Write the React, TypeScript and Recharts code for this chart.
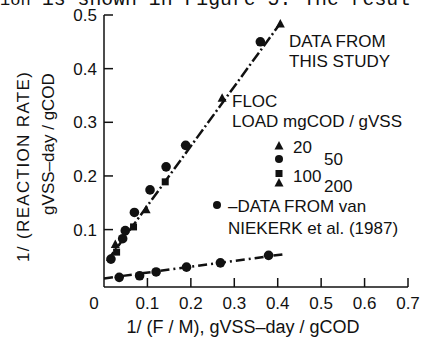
import React from "react"
import { ComposedChart, Scatter, Line, XAxis, YAxis } from "recharts"

// data: 1/(F/M) vs 1/(reaction rate)
const load20 = [
  { x: 0.272, y: 0.345 },
  { x: 0.406, y: 0.483 },
]
const load50 = [
  { x: 0.016, y: 0.045 },
  { x: 0.043, y: 0.083 },
  { x: 0.049, y: 0.098 },
  { x: 0.07, y: 0.132 },
  { x: 0.106, y: 0.174 },
  { x: 0.143, y: 0.217 },
  { x: 0.188, y: 0.257 },
  { x: 0.36, y: 0.45 },
]
const load100 = [
  { x: 0.029, y: 0.058 },
  { x: 0.068, y: 0.105 },
  { x: 0.141, y: 0.189 },
]
const load200 = [
  { x: 0.026, y: 0.072 },
  { x: 0.097, y: 0.137 },
]
const vanNiekerk = [
  { x: 0.035, y: 0.011 },
  { x: 0.082, y: 0.014 },
  { x: 0.12, y: 0.021 },
  { x: 0.19, y: 0.03 },
  { x: 0.268, y: 0.038 },
  { x: 0.379, y: 0.052 },
]
const studyFit = [
  { x: 0.007, y: 0.041 },
  { x: 0.41, y: 0.489 },
]
const niekerkFit = [
  { x: 0, y: 0.009 },
  { x: 0.413, y: 0.054 },
]
const xTicks = [0, 0.1, 0.2, 0.3, 0.4, 0.5, 0.6, 0.7]
const yTicks = [0.1, 0.2, 0.3, 0.4, 0.5]

const FONT = "'Liberation Sans', Arial, sans-serif"
const INK = "#111"

const dot = (p: any) => <circle cx={p.cx} cy={p.cy} r={4.8} fill={INK} />
const square = (p: any) => <rect x={p.cx - 3.5} y={p.cy - 3.5} width={7} height={7} fill={INK} />
const triangle = (p: any) => (
  <polygon
    points={`${p.cx},${p.cy - 5} ${p.cx - 4.5},${p.cy + 3.5} ${p.cx + 4.5},${p.cy + 3.5}`}
    fill={INK}
  />
)

const YTick = (p: any) => (
  <g>
    <line x1={p.x + 7} x2={p.x + 16} y1={p.y} y2={p.y} stroke={INK} strokeWidth={1.5} />
    <text x={p.x} y={p.y} dy={6} textAnchor="end" fontFamily={FONT} fontSize={17} fill={INK}>
      {p.payload.value}
    </text>
  </g>
)

const XTick = (p: any) => {
  const v = p.payload.value
  return (
    <g>
      {v !== 0 && <line x1={p.x} x2={p.x} y1={p.y} y2={p.y - 9} stroke={INK} strokeWidth={1.5} />}
      <text x={v === 0 ? p.x - 10 : p.x} y={p.y + 22} textAnchor="middle" fontFamily={FONT} fontSize={17} fill={INK}>
        {v}
      </text>
    </g>
  )
}

export default function App() {
  return (
    <div style={{ position: "absolute", left: 0, top: 0, width: 421, height: 345, background: "#fff" }}>
      <ComposedChart width={421} height={345} margin={{ top: 15, right: 13, left: 0, bottom: 0 }}>
        <XAxis
          dataKey="x"
          type="number"
          domain={[0, 0.7]}
          ticks={xTicks}
          interval={0}
          allowDataOverflow
          height={58}
          tickSize={0}
          tickMargin={0}
          tickLine={false}
          tick={<XTick />}
          axisLine={{ stroke: INK, strokeWidth: 1.5 }}
        />
        <XAxis xAxisId="top" orientation="top" type="number" domain={[0, 0.7]} height={0} tick={false} tickLine={false} axisLine={{ stroke: INK, strokeWidth: 1.5 }} />
        <YAxis
          dataKey="y"
          type="number"
          domain={[-0.007, 0.5]}
          ticks={yTicks}
          interval={0}
          allowDataOverflow
          width={104}
          tickSize={0}
          tickMargin={7}
          tickLine={false}
          tick={<YTick />}
          axisLine={{ stroke: INK, strokeWidth: 1.5 }}
        />
        <YAxis yAxisId="right" orientation="right" type="number" domain={[0, 0.5]} width={0} tick={false} tickLine={false} axisLine={{ stroke: INK, strokeWidth: 1.5 }} />

        <Line data={studyFit} dataKey="y" stroke={INK} strokeWidth={2.5} strokeDasharray="11 3 2 3" dot={false} isAnimationActive={false} />
        <Line data={niekerkFit} dataKey="y" stroke={INK} strokeWidth={2.5} strokeDasharray="9 4 2 4" dot={false} isAnimationActive={false} />

        <Scatter data={load20} shape={triangle} isAnimationActive={false} />
        <Scatter data={load50} shape={dot} isAnimationActive={false} />
        <Scatter data={load100} shape={square} isAnimationActive={false} />
        <Scatter data={load200} shape={triangle} isAnimationActive={false} />
        <Scatter data={vanNiekerk} shape={dot} isAnimationActive={false} />
      </ComposedChart>

      <svg width={421} height={345} style={{ position: "absolute", left: 0, top: 0, pointerEvents: "none" }} fontFamily={FONT} fontSize={17} fill={INK}>
        {/* running text of the scanned page, cut off by the crop */}
        <text x={0} y={5} fontFamily="'Liberation Mono', monospace" fontSize={17}>ion</text>
        <text x={42} y={5} fontFamily="'Liberation Mono', monospace" fontSize={19.8}>is shown in Figure 5.  The resul</text>

        <text transform="translate(29,167) rotate(-90)" textAnchor="middle" textLength={190}>1/  (REACTION RATE)</text>
        <text transform="translate(54,144) rotate(-90)" textAnchor="middle">gVSS–day / gCOD</text>
        <text x={243} y={333} textAnchor="middle" fontSize={18}>1/  (F / M), gVSS–day / gCOD</text>

        <text x={289} y={47}>DATA FROM</text>
        <text x={289} y={67}>THIS STUDY</text>
        <text x={232} y={107}>FLOC</text>
        <text x={232} y={127}>LOAD mgCOD / gVSS</text>

        <polygon points="279,141 274.5,149.5 283.5,149.5" />
        <text x={293} y={153}>20</text>
        <circle cx={279} cy={159} r={4} />
        <text x={324} y={165}>50</text>
        <rect x={275.5} y={170} width={7} height={7} />
        <text x={293} y={182}>100</text>
        <polygon points="279,178 274.5,186.5 283.5,186.5" />
        <text x={324} y={192}>200</text>

        <circle cx={217} cy={205} r={4} />
        <text x={228} y={212}>–DATA FROM van</text>
        <text x={228} y={234}>NIEKERK et al. (1987)</text>
      </svg>
    </div>
  )
}
